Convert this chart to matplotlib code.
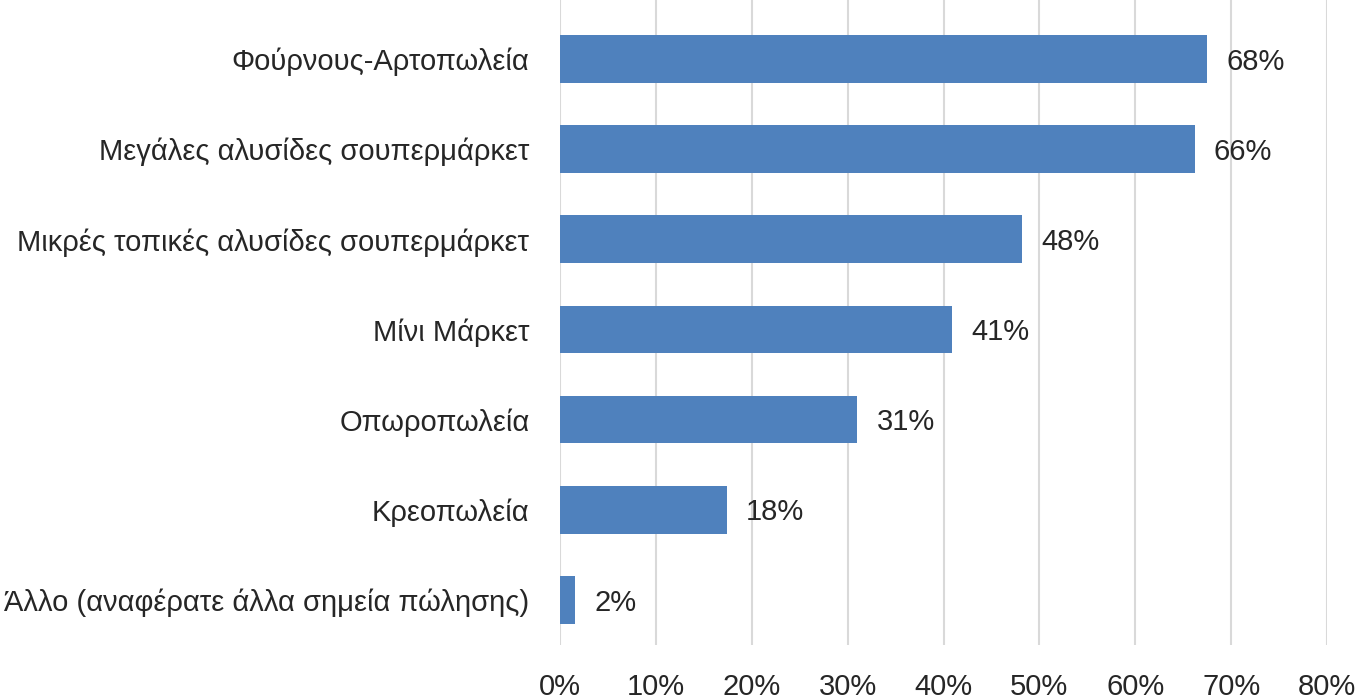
import matplotlib
matplotlib.use('Agg')
import matplotlib.pyplot as plt
from matplotlib import font_manager

# categories top to bottom
categories = ['Φούρνους-Αρτοπωλεία', 'Μεγάλες αλυσίδες σουπερμάρκετ',
              'Μικρές τοπικές αλυσίδες σουπερμάρκετ', 'Μίνι Μάρκετ',
              'Οπωροπωλεία', 'Κρεοπωλεία', 'Άλλο (αναφέρατε άλλα σημεία πώλησης)']
values = [67.5, 66.2, 48.2, 40.9, 31.0, 17.4, 1.6]
value_labels = ['68%', '66%', '48%', '41%', '31%', '18%', '2%']
xticks = [0, 10, 20, 30, 40, 50, 60, 70, 80]
xtick_labels = ['0%', '10%', '20%', '30%', '40%', '50%', '60%', '70%', '80%']

# the original uses a condensed arial-like face; use the narrow one if it is there
names = {f.name for f in font_manager.fontManager.ttflist}
if 'Liberation Sans Narrow' in names:
    plt.rcParams['font.family'] = ['Liberation Sans Narrow', 'DejaVu Sans']
    fs = 25
else:
    plt.rcParams['font.family'] = ['Liberation Sans', 'DejaVu Sans']
    fs = 21
txt = '#262626'

fig = plt.figure(figsize=(13.71, 7), dpi=100)
ax = fig.add_axes([560/1371, 55/700, 767/1371, 645/700])

pos = list(range(len(categories)))
ax.barh(pos, values, height=0.53, color='#4F81BD', zorder=3)

for p, v, lab in zip(pos, values, value_labels):
    ax.text(v + 2.0, p + 0.03, lab, va='center', ha='left', fontsize=fs, color=txt)

ax.set_xlim(0, 80)
ax.set_ylim(6.5, -0.654)
ax.set_xticks(xticks)
ax.set_xticklabels(xtick_labels)
ax.set_yticks(pos)
ax.set_yticklabels(categories)
ax.tick_params(axis='x', length=0, pad=20, labelsize=fs, labelcolor=txt)
ax.tick_params(axis='y', length=0, pad=22, labelsize=fs, labelcolor=txt)
ax.grid(axis='x', color='#D9D9D9', linewidth=1.5, zorder=0)
for s in ax.spines.values():
    s.set_visible(False)

fig.savefig('out.png', dpi=100)
